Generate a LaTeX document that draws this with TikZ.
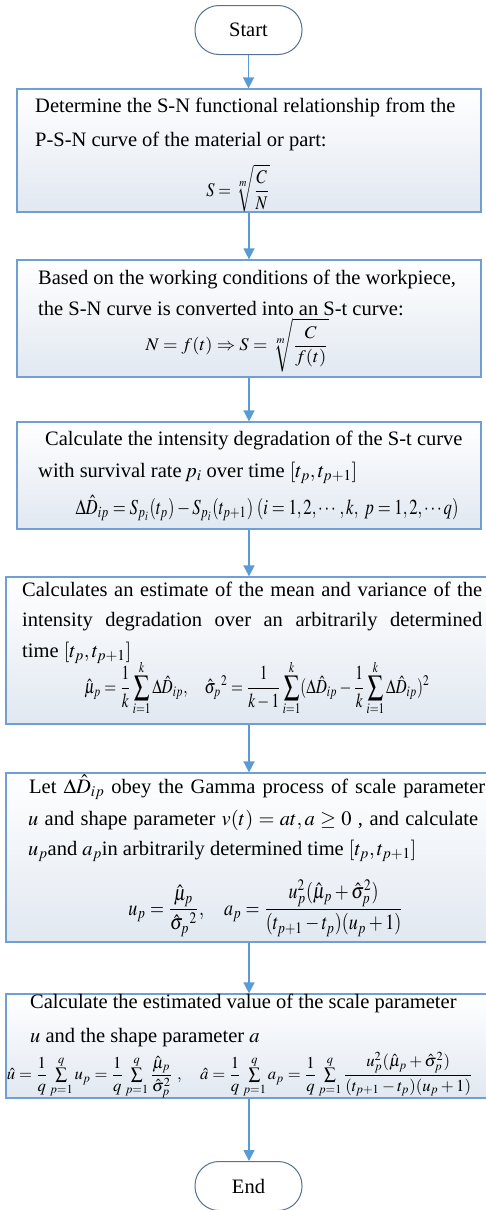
\documentclass[tikz,border=0pt]{standalone}
\usepackage{amsmath}
\usepackage{mathptmx}
\usepackage[no-math]{fontspec}
\setmainfont{Liberation Serif}
\usepackage{graphicx}
\usetikzlibrary{arrows.meta}
\definecolor{boxline}{HTML}{6F9FD3}
\definecolor{arrowc}{HTML}{5B9BD5}
\definecolor{termline}{HTML}{56728F}
\definecolor{boxbot}{HTML}{E1E8F1}
\newcommand{\eqbox}[3]{\resizebox*{#1}{#2}{$\displaystyle #3$}}
\begin{document}
\begin{tikzpicture}[x=1pt,y=-1pt,
  term/.style={draw=termline, line width=1pt, rounded corners=24pt, fill=white,
    minimum width=107pt, minimum height=49pt, inner sep=0pt, font=\fontsize{20.5}{24}\selectfont},
  procbox/.style={draw=boxline, line width=1.2pt, top color=white, bottom color=boxbot, inner sep=0pt},
  txt/.style={anchor=base west, inner sep=0pt, font=\fontsize{20.5}{24}\selectfont},
  eq/.style={anchor=center, inner sep=0pt},
  flow/.style={draw=arrowc, line width=1.5pt, -{Triangle[width=11pt,length=11pt]}}]
\useasboundingbox (0,0) rectangle (485,1210);
% terminals
\node[term] (start) at (248.5,30) {Start};
\node[term] (end) at (248.5,1186) {End};
% process boxes
\node[procbox, minimum width=464pt, minimum height=123pt] (b1) at (249,150.5) {};
\node[procbox, minimum width=464pt, minimum height=117pt] (b2) at (249,318.5) {};
\node[procbox, minimum width=464pt, minimum height=107pt] (b3) at (249,475.5) {};
\node[procbox, minimum width=486pt, minimum height=147pt] (b4) at (249,650.5) {};
\node[procbox, minimum width=486pt, minimum height=169pt] (b5) at (249,857.5) {};
\node[procbox, minimum width=486pt, minimum height=104pt] (b6) at (249,1046) {};
% connectors
\draw[flow] (start.south) -- (start.south |- b1.north);
\draw[flow] (b1.south) -- (b1.south |- b2.north);
\draw[flow] (b2.south) -- (b2.south |- b3.north);
\draw[flow] (b3.south) -- (b3.south |- b4.north);
\draw[flow] (b4.south) -- (b4.south |- b5.north);
\draw[flow] (b5.south) -- (b5.south |- b6.north);
\draw[flow] (b6.south) -- (b6.south |- end.north);
% box 1
\node[txt] (t11) at (35,112) {Determine the S-N functional relationship from the};
\node[txt] (t12) at (35,146) {P-S-N curve of the material or part:};
\node[eq] (e1) at (238,188) {\eqbox{63pt}{47pt}{S=\sqrt[m]{\frac{C}{N}}}};
% box 2
\node[txt] (t21) at (38,284) {Based on the working conditions of the workpiece,};
\node[txt] (t22) at (38,315) {the S-N curve is converted into an S-t curve:};
\node[eq] (e2) at (237,345) {\eqbox{183pt}{54pt}{N=f(t)\Rightarrow S=\sqrt[m]{\frac{C}{f(t)}}}};
% box 3
\node[txt] (t31) at (45,445) {Calculate the intensity degradation of the S-t curve};
\node[txt] (t32) at (38,477) {with survival rate\,$p_i$ over time $[t_p,t_{p+1}]$};
\node[eq] (e3) at (267,508) {\eqbox{383pt}{25pt}{\Delta\hat{D}_{ip}=S_{p_i}(t_p)-S_{p_i}(t_{p+1})\;(i=1,2,\cdots,k,\ p=1,2,\cdots q)}};
% box 4
\node[txt] (t41) at (22,596) {\makebox[460pt][s]{Calculates an estimate of the mean and variance of the}};
\node[txt] (t42) at (22,626) {\makebox[460pt][s]{intensity degradation over an arbitrarily determined}};
\node[txt] (t43) at (22,657) {time $[t_p,t_{p+1}]$};
\node[eq] (e4) at (257,688) {\eqbox{345pt}{56pt}{\hat{\mu}_p=\frac{1}{k}\sum_{i=1}^{k}\Delta\hat{D}_{ip},\quad \hat{\sigma}_p{}^2=\frac{1}{k-1}\sum_{i=1}^{k}(\Delta\hat{D}_{ip}-\frac{1}{k}\sum_{i=1}^{k}\Delta\hat{D}_{ip})^2}};
% box 5
\node[txt] (t51) at (29,793) {\makebox[456pt][s]{Let $\Delta\hat{D}_{ip}$ obey the Gamma process of scale parameter}};
\node[txt] (t52) at (28,825) {\makebox[450pt][s]{$u$ and shape parameter $v(t)=at,a\ge 0$ , and calculate}};
\node[txt] (t53) at (28,855) {$u_p$and $a_p$in arbitrarily determined time $[t_p,t_{p+1}]$};
\node[eq] (e5) at (266,908) {\eqbox{275pt}{57pt}{u_p=\frac{\hat{\mu}_p}{\hat{\sigma}_p{}^2},\quad a_p=\frac{u_p^2(\hat{\mu}_p+\hat{\sigma}_p^2)}{(t_{p+1}-t_p)(u_p+1)}}};
% box 6
\node[txt] (t61) at (30,1008) {Calculate the estimated value of the scale parameter};
\node[txt] (t62) at (30,1042) {$u$ and the shape parameter $a$};
\node[eq] (e6) at (240,1075) {\resizebox{466pt}{!}{$\hat{u}=\dfrac{1}{q}\sum\limits_{p=1}^{q}u_p=\dfrac{1}{q}\sum\limits_{p=1}^{q}\dfrac{\hat{\mu}_p}{\hat{\sigma}_p^2}\ ,\quad \hat{a}=\dfrac{1}{q}\sum\limits_{p=1}^{q}a_p=\dfrac{1}{q}\sum\limits_{p=1}^{q}\dfrac{u_p^2(\hat{\mu}_p+\hat{\sigma}_p^2)}{(t_{p+1}-t_p)(u_p+1)}$}};
\end{tikzpicture}
\end{document}
